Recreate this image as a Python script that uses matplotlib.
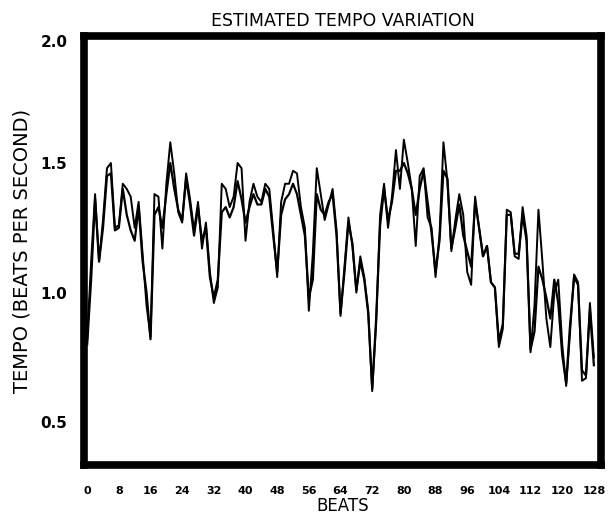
import matplotlib
matplotlib.use("Agg")
import matplotlib.pyplot as plt
import numpy as np

beats = list(range(129))
tempo_a = [0.82, 1.12, 1.38, 1.12, 1.28, 1.48, 1.50, 1.25, 1.26, 1.42,
           1.40, 1.37, 1.25, 1.35, 1.15, 0.95, 0.83, 1.38, 1.37, 1.17,
           1.42, 1.58, 1.46, 1.31, 1.27, 1.46, 1.36, 1.24, 1.35, 1.17,
           1.27, 1.08, 0.96, 1.02, 1.42, 1.40, 1.33, 1.37, 1.50, 1.48,
           1.20, 1.35, 1.42, 1.37, 1.35, 1.42, 1.40, 1.24, 1.06, 1.35,
           1.42, 1.42, 1.47, 1.46, 1.33, 1.25, 0.93, 1.15, 1.48, 1.38,
           1.28, 1.34, 1.40, 1.24, 0.91, 1.10, 1.29, 1.18, 1.00, 1.14,
           1.06, 0.93, 0.62, 0.88, 1.30, 1.42, 1.25, 1.37, 1.55, 1.40,
           1.59, 1.50, 1.40, 1.18, 1.45, 1.48, 1.29, 1.25, 1.06, 1.22,
           1.58, 1.43, 1.16, 1.28, 1.38, 1.30, 1.08, 1.03, 1.37, 1.25,
           1.14, 1.18, 1.04, 1.02, 0.79, 0.86, 1.32, 1.31, 1.14, 1.13,
           1.33, 1.22, 0.77, 0.95, 1.32, 1.12, 0.90, 0.79, 1.00, 1.05,
           0.80, 0.64, 0.85, 1.07, 1.04, 0.66, 0.67, 0.96, 0.75]
tempo_b = [0.80, 1.05, 1.36, 1.12, 1.25, 1.45, 1.46, 1.24, 1.25, 1.40,
           1.30, 1.24, 1.20, 1.33, 1.12, 1.00, 0.82, 1.30, 1.33, 1.25,
           1.38, 1.50, 1.40, 1.32, 1.28, 1.44, 1.34, 1.22, 1.33, 1.20,
           1.25, 1.06, 0.98, 1.05, 1.31, 1.33, 1.29, 1.33, 1.43, 1.36,
           1.27, 1.33, 1.38, 1.34, 1.34, 1.40, 1.37, 1.22, 1.08, 1.30,
           1.36, 1.38, 1.42, 1.38, 1.30, 1.22, 0.98, 1.05, 1.38, 1.32,
           1.30, 1.35, 1.38, 1.22, 0.92, 1.08, 1.27, 1.19, 1.01, 1.12,
           1.05, 0.92, 0.63, 0.90, 1.26, 1.40, 1.28, 1.35, 1.47, 1.47,
           1.50, 1.46, 1.40, 1.30, 1.40, 1.47, 1.35, 1.23, 1.08, 1.20,
           1.47, 1.44, 1.17, 1.25, 1.34, 1.22, 1.16, 1.10, 1.35, 1.25,
           1.14, 1.18, 1.04, 1.02, 0.81, 0.88, 1.30, 1.30, 1.15, 1.15,
           1.30, 1.20, 0.78, 0.85, 1.10, 1.05, 0.98, 0.90, 1.05, 0.96,
           0.76, 0.65, 0.88, 1.06, 1.03, 0.70, 0.68, 0.93, 0.72]

x_ticks = list(range(0, 129, 8))
y_ticks = [0.5, 1.0, 1.5, 1.97]
y_tick_labels = ["0.5", "1.0", "1.5", "2.0"]

fig = plt.figure(figsize=(6.11, 5.2), dpi=100)
ax = fig.add_axes([84/611, 1-465/520, (601-84)/611, (465-36)/520])
ax.plot(beats, tempo_a, color="black", lw=1.4)
ax.plot(beats, tempo_b, color="black", lw=1.6)
ax.set_xlim(-0.8, 129.8)
ax.set_ylim(0.335, 1.99)
for s in ax.spines.values():
    s.set_linewidth(5.5)
    s.set_color("black")
ax.set_xticks(x_ticks)
ax.set_xticklabels([str(t) for t in x_ticks], fontsize=8, fontweight="bold")
ax.set_yticks(y_ticks)
ax.set_yticklabels(y_tick_labels, fontsize=11, fontweight="bold")
ax.tick_params(axis="x", length=0, pad=15)
ax.tick_params(axis="y", length=0, pad=12)
ax.set_title("ESTIMATED TEMPO VARIATION", fontsize=12.5, pad=7)
ax.set_xlabel("BEATS", fontsize=12, labelpad=1)
ax.set_ylabel("TEMPO (BEATS PER SECOND)", fontsize=14, labelpad=6)
fig.savefig("out.png", dpi=100)
